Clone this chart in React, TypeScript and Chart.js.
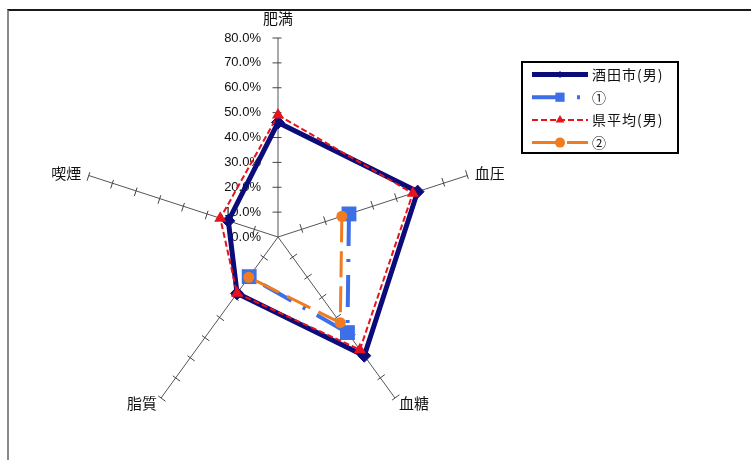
import React, { useEffect, useRef } from 'react';
import { Chart, registerables } from 'chart.js';
import { drawPoint } from 'chart.js/helpers';

Chart.register(...registerables);

// ---- data ----
const CATEGORIES = ['肥満', '血圧', '血糖', '脂質', '喫煙'];
const SERIES_NAMES = ['酒田市(男)', '①', '県平均(男)', '②'];
const SAKATA_MALE = [46, 59, 59, 28, 21];
const SERIES_1 = [null, 30, 47.5, 19.7, null];
const PREF_AVG_MALE = [49, 57, 56, 28, 24.4];
const SERIES_2 = [null, 27, 42.6, 20, null];
const TICK_VALUES = [0, 10, 20, 30, 40, 50, 60, 70, 80];

// ---- styles ----
const FONT_CJK = '"Noto Sans CJK JP", "Noto Sans", sans-serif';
const FONT_NUM = '"Liberation Sans", Arial, sans-serif';
const NAVY = '#0b0b7a';
const BLUE = '#3d6fe6';
const RED = '#e8121c';
const ORANGE = '#f07c1f';
const LEGEND_MARKER_RADIUS = [3, 6.5, 5, 5];

const decorPlugin = {
  id: 'decor',
  beforeDatasetsDraw(chart: any) {
    const scale = chart.scales.r;
    const ctx = chart.ctx as CanvasRenderingContext2D;
    ctx.save();
    ctx.strokeStyle = '#444';
    ctx.lineWidth = 1;
    ctx.setLineDash([]);
    for (let i = 0; i < CATEGORIES.length; i++) {
      const a = scale.getIndexAngle(i) - Math.PI / 2;
      const ux = Math.cos(a);
      const uy = Math.sin(a);
      const px = uy;
      const py = -ux;
      for (const v of TICK_VALUES) {
        if (v === 0) continue;
        const p = scale.getPointPositionForValue(i, v);
        ctx.beginPath();
        ctx.moveTo(p.x + px * 5.5, p.y + py * 5.5);
        ctx.lineTo(p.x - px * 3.5, p.y - py * 3.5);
        ctx.stroke();
      }
    }
    ctx.font = `13px ${FONT_NUM}`;
    ctx.fillStyle = '#111';
    ctx.textAlign = 'right';
    ctx.textBaseline = 'middle';
    for (const v of TICK_VALUES) {
      const p = scale.getPointPositionForValue(0, v);
      ctx.fillText(v.toFixed(1) + '%', scale.xCenter - 17, p.y);
    }
    ctx.restore();
  },
  afterDraw(chart: any) {
    const scale = chart.scales.r;
    const ctx = chart.ctx as CanvasRenderingContext2D;
    ctx.save();
    // axis labels
    ctx.font = `15px ${FONT_CJK}`;
    ctx.fillStyle = '#111';
    ctx.textBaseline = 'middle';
    for (let i = 0; i < CATEGORIES.length; i++) {
      const pad = i === 0 ? 20 : i === 1 || i === 4 ? 8 : 7;
      const p = scale.getPointPosition(i, scale.drawingArea + pad);
      const dx = p.x - scale.xCenter;
      ctx.textAlign = Math.abs(dx) < 1 ? 'center' : dx > 0 ? 'left' : 'right';
      ctx.fillText(CATEGORIES[i], p.x, p.y);
    }
    // legend
    const bx = 522, by = 62, bw = 156, bh = 91;
    ctx.lineWidth = 2;
    ctx.strokeStyle = '#000';
    ctx.setLineDash([]);
    ctx.strokeRect(bx, by, bw, bh);
    const datasets = chart.data.datasets;
    ctx.font = `14px ${FONT_CJK}`;
    (ctx as any).letterSpacing = '1px';
    ctx.textAlign = 'left';
    ctx.textBaseline = 'middle';
    datasets.forEach((ds: any, i: number) => {
      const y = 74.5 + i * 22.7;
      ctx.save();
      ctx.strokeStyle = ds.borderColor;
      ctx.lineWidth = ds.borderWidth;
      ctx.lineCap = 'butt';
      ctx.setLineDash(ds.borderDash || []);
      ctx.beginPath();
      ctx.moveTo(532, y);
      ctx.lineTo(588, y);
      ctx.stroke();
      ctx.setLineDash([]);
      ctx.fillStyle = ds.pointBackgroundColor;
      ctx.strokeStyle = ds.pointBorderColor;
      ctx.lineWidth = ds.pointBorderWidth;
      drawPoint(ctx, {
        pointStyle: ds.pointStyle,
        radius: LEGEND_MARKER_RADIUS[i],
        rotation: 0,
        borderWidth: ds.pointBorderWidth,
      } as any, 560, y);
      ctx.restore();
      ctx.fillStyle = '#111';
      ctx.fillText(ds.label, 592, y);
    });
    ctx.restore();
  },
};

export default function App() {
  const ref = useRef<HTMLCanvasElement>(null);
  useEffect(() => {
    const chart = new Chart(ref.current as HTMLCanvasElement, {
      type: 'radar',
      data: {
        labels: CATEGORIES,
        datasets: [
          {
            label: SERIES_NAMES[0],
            data: SAKATA_MALE,
            borderColor: NAVY,
            backgroundColor: NAVY,
            borderWidth: 5,
            pointStyle: 'rectRot',
            pointRadius: 6.5,
            pointBackgroundColor: NAVY,
            pointBorderColor: NAVY,
            pointBorderWidth: 1,
            fill: false,
            order: 3,
          },
          {
            label: SERIES_NAMES[1],
            data: SERIES_1,
            borderColor: BLUE,
            backgroundColor: BLUE,
            borderWidth: 4,
            borderDash: [32, 13, 3, 13],
            pointStyle: 'rect',
            pointRadius: 10.5,
            pointBackgroundColor: BLUE,
            pointBorderColor: BLUE,
            pointBorderWidth: 0,
            fill: false,
            spanGaps: false,
            order: 2,
          },
          {
            label: SERIES_NAMES[2],
            data: PREF_AVG_MALE,
            borderColor: RED,
            backgroundColor: RED,
            borderWidth: 2,
            borderDash: [6, 3],
            pointStyle: 'triangle',
            pointRadius: 7,
            pointBackgroundColor: RED,
            pointBorderColor: RED,
            pointBorderWidth: 0,
            fill: false,
            order: 1,
          },
          {
            label: SERIES_NAMES[3],
            data: SERIES_2,
            borderColor: ORANGE,
            backgroundColor: ORANGE,
            borderWidth: 3,
            borderDash: [26, 9],
            pointStyle: 'circle',
            pointRadius: 5.5,
            pointBackgroundColor: ORANGE,
            pointBorderColor: ORANGE,
            pointBorderWidth: 0,
            fill: false,
            spanGaps: false,
            order: 0,
          },
        ] as any,
      },
      options: {
        animation: false,
        responsive: false,
        events: [],
        layout: { padding: { top: 38, bottom: 24, left: 79, right: 274 } },
        elements: { line: { tension: 0, borderCapStyle: 'butt' } },
        plugins: {
          legend: { display: false },
          tooltip: { enabled: false },
        },
        scales: {
          r: {
            min: 0,
            max: 80,
            beginAtZero: true,
            ticks: { display: false, stepSize: 10 },
            grid: { display: false },
            angleLines: { display: true, color: '#555', lineWidth: 1 },
            pointLabels: { display: false },
          },
        },
      } as any,
      plugins: [decorPlugin],
    });
    return () => chart.destroy();
  }, []);

  return (
    <div style={{ position: 'absolute', left: 0, top: 0, width: 751, height: 460, overflow: 'hidden', background: '#fff' }}>
      <canvas ref={ref} width={751} height={460} style={{ display: 'block', width: 751, height: 460 }} />
      <div
        style={{
          position: 'absolute',
          left: 7,
          top: 9,
          right: 0,
          bottom: 0,
          borderTop: '2px solid #1a1a1a',
          borderLeft: '2px solid #8a8a8a',
          pointerEvents: 'none',
        }}
      />
    </div>
  );
}
